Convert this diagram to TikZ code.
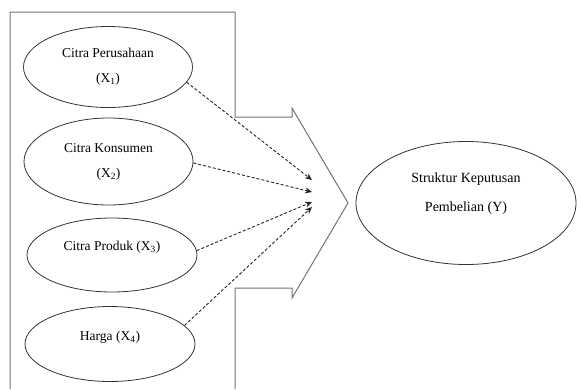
\documentclass[tikz,border=0pt]{standalone}
\usepackage{fontspec}
\setmainfont{Liberation Serif}
\usetikzlibrary{shapes.geometric,arrows.meta}
\begin{document}
\begin{tikzpicture}[x=1pt,y=-1pt,
  ell/.style={ellipse,draw=black!80,line width=0.8pt,inner sep=0pt,align=center,font=\fontsize{13.5}{25}\selectfont},
  lbl/.style={font=\fontsize{13.5}{25}\selectfont,align=center,inner sep=0pt},
  dasharrow/.style={draw=black!85,line width=0.9pt,dash pattern=on 3pt off 2pt,-{Stealth[length=7pt,width=6pt,fill=black]}},
  outline/.style={draw=black!55,line width=1pt}]
\useasboundingbox (0,0) rectangle (577,389);
% outline frame with arrow
\draw[outline] (10,389) -- (10,12) -- (235,12) -- (235,117) -- (292,117) -- (292,108)
  -- (348,203) -- (292,298) -- (292,288) -- (235,288) -- (235,389);
% ellipses
\node[ell,minimum width=169pt,minimum height=81pt] (x1) at (108,67) {Citra Perusahaan\\(X\textsubscript{1})};
\node[ell,minimum width=169pt,minimum height=87pt] (x2) at (108.5,161.5) {Citra Konsumen\\(X\textsubscript{2})};
\node[ell,minimum width=170pt,minimum height=74pt] (x3) at (112,255) {};
\node[lbl] (l3) at (112,247) {Citra Produk (X\textsubscript{3})};
\node[ell,minimum width=170pt,minimum height=75pt] (x4) at (110,344) {};
\node[lbl] (l4) at (110,337) {Harga (X\textsubscript{4})};
\node[ell,minimum width=220pt,minimum height=123pt] (y) at (466,203) {};
\node[lbl,font=\fontsize{14}{29}\selectfont] (ly) at (466,194) {Struktur Keputusan\\Pembelian (Y)};
% arrow tips
\coordinate (t1) at (312,180);
\coordinate (t2) at (312,192);
\coordinate (t3) at (312,202);
\coordinate (t4) at (312,207);
\draw[dasharrow] (x1.-11) -- (t1);
\draw[dasharrow] (x2.-1) -- (t2);
\draw[dasharrow] (x3.3) -- (t3);
\draw[dasharrow] (x4.14) -- (t4);
\end{tikzpicture}
\end{document}
